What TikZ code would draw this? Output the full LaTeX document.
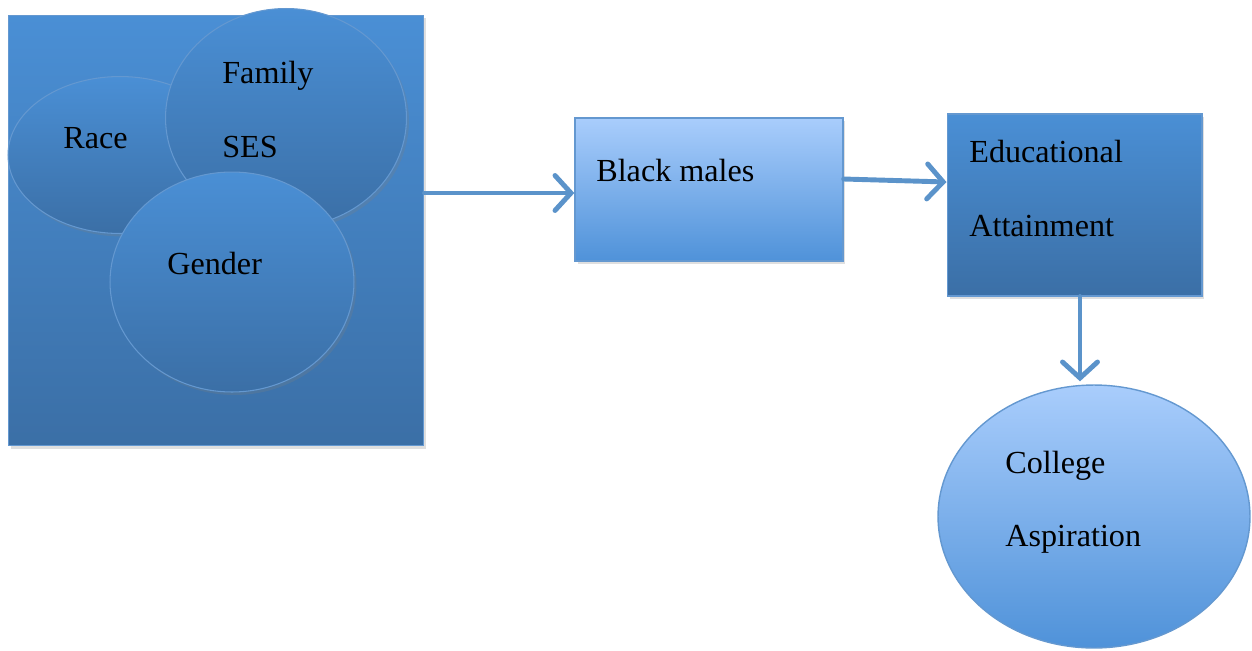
\documentclass[tikz,border=0pt]{standalone}
\usepackage{fontspec}
\setmainfont{Liberation Serif}
\usepackage{tikz}
\usetikzlibrary{shapes.geometric,arrows.meta,shadows}
\definecolor{darktop}{HTML}{4A8FD5}
\definecolor{darkbot}{HTML}{3B6FA6}
\definecolor{lighttop}{HTML}{A9CDFC}
\definecolor{lightbot}{HTML}{4F92D9}
\definecolor{rim}{HTML}{6498D0}
\definecolor{arrowblue}{HTML}{5B93CA}

\begin{document}
\begin{tikzpicture}[x=0.02cm, y=-0.02cm,
        darkfill/.style={top color=darktop, bottom color=darkbot, draw=rim, line width=0.6pt},
        lightfill/.style={top color=lighttop, bottom color=lightbot, draw=rim, line width=0.8pt},
        shade/.style={drop shadow={opacity=0.25, shadow xshift=0.05cm, shadow yshift=-0.06cm}},
        blob/.style={ellipse, inner sep=0pt},
        slab/.style={rectangle, inner sep=0pt},
        word/.style={anchor=base west, inner sep=0pt, font=\fontsize{18.3}{20}\selectfont},
        flow/.style={arrowblue, line width=2.8pt, line cap=round,
            -{Straight Barb[length=0.32cm, width=0.7cm, line cap=round]}}]
        \useasboundingbox (0, 0) rectangle (1252, 650);
        % factors
        \node[slab, darkfill, shade, minimum width=8.32cm, minimum height=8.62cm] (factors) at (216, 230.5) {};
        \node[blob, darkfill, shade, minimum width=4.48cm, minimum height=3.14cm] (race) at (120, 155) {};
        \node[blob, darkfill, shade, minimum width=4.82cm, minimum height=4.38cm] (family) at (286, 118) {};
        \node[blob, darkfill, shade, minimum width=4.88cm, minimum height=4.40cm] (gender) at (232, 282) {};
        \node[word] (racetext) at (63, 148) {Race};
        \node[word] (familytext) at (222, 83) {Family};
        \node[word] (sestext) at (222, 157) {SES};
        \node[word] (gendertext) at (167, 274) {Gender};
        % chain
        \node[slab, lightfill, shade, minimum width=5.36cm, minimum height=2.86cm] (males) at (709, 189.5) {};
        \node[word] (malestext) at (596, 181) {Black males};
        \node[slab, darkfill, shade, minimum width=5.10cm, minimum height=3.64cm] (attain) at (1074.5, 205) {};
        \node[word] (attaintext1) at (969, 162) {Educational};
        \node[word] (attaintext2) at (969, 236) {Attainment};
        \node[blob, lightfill, minimum width=6.24cm, minimum height=5.26cm] (college) at (1094, 516.5) {};
        \node[word] (collegetext1) at (1005, 473) {College};
        \node[word] (collegetext2) at (1005, 546) {Aspiration};
        % arrows
        \draw[flow] ([yshift=-0.07cm]factors.east |- males.west) -- ([yshift=-0.07cm]males.west);
        \draw[flow] ([yshift=0.21cm]males.east) -- ([yshift=0.46cm]attain.west);
        \draw[flow] ([xshift=0.11cm]attain.south) -- ([xshift=0.11cm, yshift=0.06cm]attain.south |- college.north);
\end{tikzpicture}
\end{document}
